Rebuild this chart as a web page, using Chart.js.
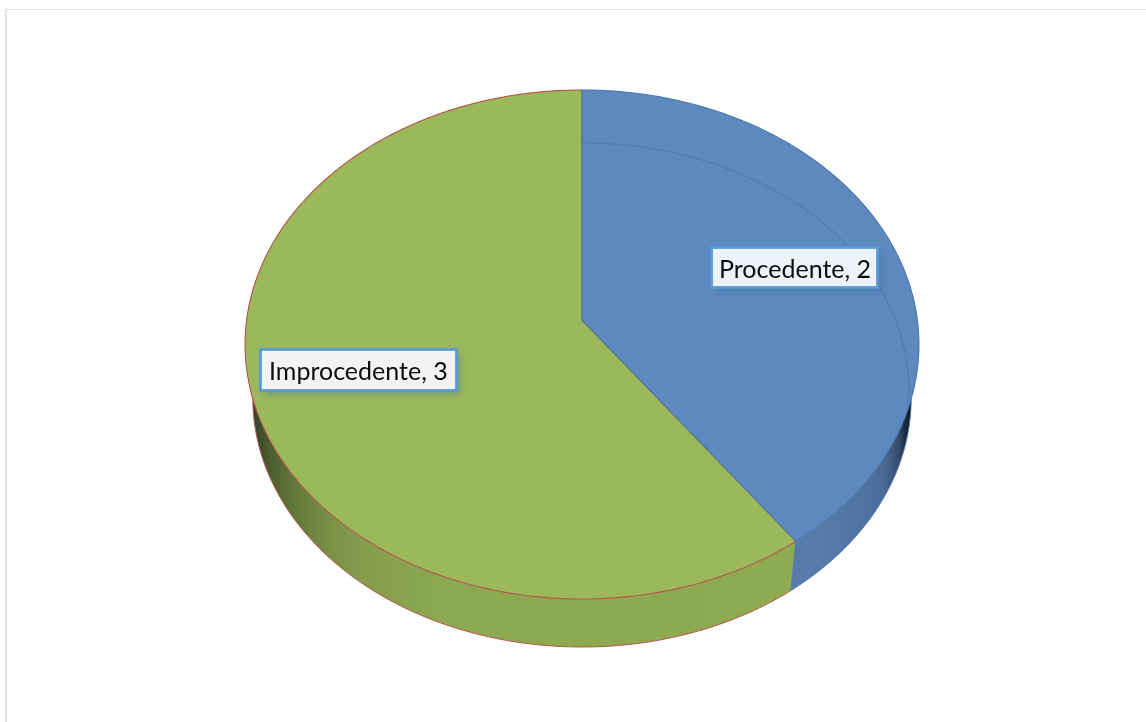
<!DOCTYPE html>
<html>
<head>
<meta charset="utf-8">
<style>
html,body{margin:0;padding:0;background:#fff;overflow:hidden}
#frame{position:absolute;left:5px;top:9px;right:0;bottom:0;border-left:2px solid #e4e4e4;border-top:1.5px solid #e0e0e0}
#wrap{position:absolute;left:0;top:0;width:1146px;height:722px}
</style>
<script src="https://cdn.jsdelivr.net/npm/chart.js@4"></script>
</head>
<body>
<div id="frame"></div>
<div id="wrap"><canvas id="c" width="1146" height="722"></canvas></div>
<script>
const categories = ['Procedente', 'Improcedente'];
const values = [2, 3];

const topColors = ['#5e89bf', '#9bb95a'];
const edgeColors = ['#4f7bb2', '#b5574c'];
const wallEdge = ['#4f7bb2', '#b5574c'];
const wallStops = [
  [[0, '#5a80b2'], [0.8, '#567ba9'], [0.88, '#5175a3'], [0.94, '#4a6b96'], [0.975, '#35496a'], [0.99, '#1a2638'], [1, '#0e1622']],
  [[0, '#1f2812'], [0.015, '#37442a'], [0.03, '#46562b'], [0.067, '#5f7539'], [0.126, '#7a9046'], [0.185, '#859e4c'], [0.29, '#8ca850'], [1, '#90ad52']]
];
// perspective of the tilted disc, relative to the arc element radius
const K = -0.0963, AX = 1.048, BY = 0.788;
const WALL = {s: 0.977, dy: 54.4};
const BEVEL = {s: 0.97, dy: 46};
const labelBoxes = [
  {x: 711.5, y: 247.5, w: 166, h: 40, tx: 719, fill: '#edf1f8'},
  {x: 260.5, y: 349.5, w: 196, h: 41, tx: 269, fill: '#f1f4f2'}
];

function proj(arc, th, s, dy) {
  const u = Math.cos(th), v = Math.sin(th), w = 1 + K * v, R = arc.outerRadius;
  return [arc.x + s * AX * R * u / w, arc.y + dy + s * BY * R * v / w];
}
function trace(ctx, arc, a0, a1, s, dy, first) {
  const n = 240;
  for (let i = 0; i <= n; i++) {
    const p = proj(arc, a0 + (a1 - a0) * i / n, s, dy);
    if (i === 0 && first) ctx.moveTo(p[0], p[1]); else ctx.lineTo(p[0], p[1]);
  }
}
const disc3d = {
  id: 'disc3d',
  beforeDatasetDraw(chart, args) {
    const ctx = chart.ctx, arcs = chart.getDatasetMeta(args.index).data;
    ctx.save();
    ctx.lineJoin = 'round';
    arcs.forEach((arc, i) => {
      const g = ctx.createLinearGradient(arc.x - AX * arc.outerRadius * 1.005 + (i === 0 ? 210 : 0), 0, arc.x + (i === 0 ? AX * arc.outerRadius * 0.98 : AX * arc.outerRadius * 1.005), 0);
      wallStops[i].forEach(s => g.addColorStop(s[0], s[1]));
      ctx.beginPath();
      trace(ctx, arc, arc.startAngle, arc.endAngle, 1, 0, true);
      trace(ctx, arc, arc.endAngle, arc.startAngle, WALL.s, WALL.dy, false);
      ctx.closePath();
      ctx.fillStyle = g;
      ctx.fill();
      ctx.beginPath();
      trace(ctx, arc, arc.startAngle, arc.endAngle, WALL.s, WALL.dy, true);
      ctx.strokeStyle = wallEdge[i];
      ctx.lineWidth = 1;
      ctx.stroke();
    });
    // divider edge on the wall
    const a = arcs[0], e0 = proj(a, a.endAngle, 1, 0), e1 = proj(a, a.endAngle, WALL.s, WALL.dy);
    ctx.beginPath(); ctx.moveTo(e0[0], e0[1]); ctx.lineTo(e1[0], e1[1]);
    ctx.strokeStyle = '#4f7bb2'; ctx.lineWidth = 1; ctx.stroke();

    [1, 0].forEach(i => {
      const arc = arcs[i];
      ctx.beginPath();
      ctx.moveTo(arc.x, arc.y);
      trace(ctx, arc, arc.startAngle, arc.endAngle, 1, 0, false);
      ctx.closePath();
      ctx.fillStyle = topColors[i];
      ctx.fill();
      if (i === 0) {
        ctx.save();
        ctx.clip();
        ctx.beginPath();
        trace(ctx, arc, arc.startAngle, arc.endAngle, BEVEL.s, BEVEL.dy, true);
        ctx.strokeStyle = '#507bb2';
        ctx.lineWidth = 1.2;
        ctx.stroke();
        ctx.restore();
        ctx.beginPath();
        ctx.moveTo(arc.x, arc.y);
        trace(ctx, arc, arc.startAngle, arc.endAngle, 1, 0, false);
        ctx.closePath();
      }
      ctx.strokeStyle = edgeColors[i];
      ctx.lineWidth = 1.1;
      ctx.stroke();
    });
    // the straight divider edges read dark blue / olive over the fills
    ctx.beginPath();
    ctx.moveTo(a.x, a.y); ctx.lineTo(e0[0], e0[1]);
    ctx.moveTo(a.x, a.y); let t = proj(a, a.startAngle, 1, 0); ctx.lineTo(t[0], t[1]);
    ctx.strokeStyle = '#5a7f8f'; ctx.lineWidth = 1.1; ctx.stroke();
    ctx.restore();
    return false;
  },
  afterDatasetsDraw(chart) {
    const ctx = chart.ctx;
    ctx.save();
    categories.forEach((c, i) => {
      const b = labelBoxes[i];
      ctx.save();
      ctx.shadowColor = 'rgba(60,110,170,0.55)';
      ctx.shadowBlur = 7; ctx.shadowOffsetX = 3; ctx.shadowOffsetY = 3;
      ctx.fillStyle = b.fill;
      ctx.fillRect(b.x, b.y, b.w, b.h);
      ctx.restore();
      ctx.strokeStyle = '#5b9bd5';
      ctx.lineWidth = 2.8;
      ctx.strokeRect(b.x, b.y, b.w, b.h);
      ctx.fillStyle = '#0d0d0d';
      ctx.font = '25px Lato';
      ctx.textBaseline = 'alphabetic';
      ctx.fillText(c + ', ' + values[i], b.tx, b.y + 30);
    });
    ctx.restore();
  }
};
new Chart(document.getElementById('c'), {
  type: 'pie',
  data: {labels: categories, datasets: [{data: values, backgroundColor: topColors, borderWidth: 0}]},
  options: {
    responsive: false,
    animation: false,
    events: [],
    layout: {padding: {left: 18, right: 0, top: 0, bottom: 82}},
    plugins: {legend: {display: false}, tooltip: {enabled: false}, title: {display: false}}
  },
  plugins: [disc3d]
});
</script>
</body>
</html>
